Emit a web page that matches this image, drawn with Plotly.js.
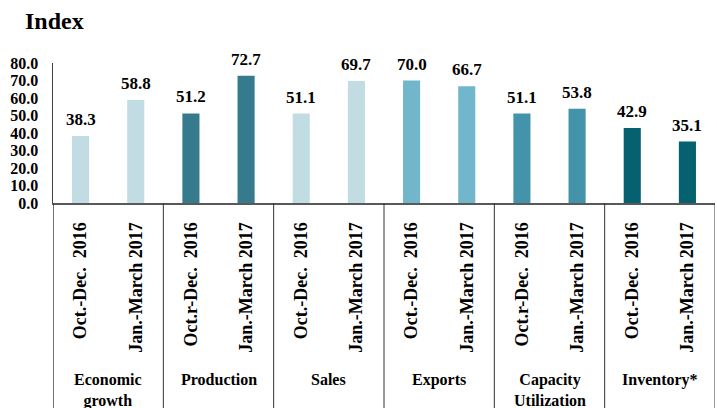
<!DOCTYPE html>
<html>
<head>
<meta charset="utf-8">
<script src="https://cdn.plot.ly/plotly-3.0.1.min.js"></script>
<style>html,body{margin:0;padding:0;background:#fff}#chart{width:717px;height:408px}</style>
</head>
<body>
<div id="chart"></div>
<script>
const groups = ['Economic<br>growth', 'Production', 'Sales', 'Exports', 'Capacity<br>Utilization', 'Inventory*'];
const periods = ['Oct.-Dec.\u00a0 2016', 'Jan.-March 2017', 'Oct.r-Dec.\u00a0 2016', 'Jan.-March 2017',
                 'Oct.-Dec.\u00a0 2016', 'Jan.-March 2017', 'Oct.-Dec.\u00a0 2016', 'Jan.-March 2017',
                 'Oct.r-Dec.\u00a0 2016', 'Jan.-March 2017', 'Oct.-Dec.\u00a0 2016', 'Jan.-March 2017'];
const values = [38.3, 58.8, 51.2, 72.7, 51.1, 69.7, 70.0, 66.7, 51.1, 53.8, 42.9, 35.1];
const groupColors = ['#c2dce4', '#357b8d', '#c2dce4', '#72b6cc', '#4393aa', '#05616f'];
const yTicks = [0, 10, 20, 30, 40, 50, 60, 70, 80];

const W = 717, H = 408;
const M = {l: 53, r: 2, t: 63, b: 205};
const plotH = H - M.t - M.b;
const pyToPaper = py => (H - M.b - py) / plotH;

const perGroup = periods.length / groups.length;
const xs = values.map((_, i) => i);
const colors = values.map((_, i) => groupColors[Math.floor(i / perGroup)]);
const font = 'Liberation Serif, Times New Roman, serif';

const trace = {
  type: 'bar', x: xs, y: values,
  marker: {color: colors, line: {width: 0}},
  width: 0.31, hoverinfo: 'none', cliponaxis: false
};

const annotations = values.map((v, i) => ({
  x: i, y: v, xref: 'x', yref: 'y', text: '<b>' + v.toFixed(1) + '</b>',
  showarrow: false, yanchor: 'bottom', yshift: 5,
  font: {family: font, size: 17, color: '#000'}
}));
groups.forEach((g, k) => {
  annotations.push({
    x: k * perGroup + (perGroup - 1) / 2, xref: 'x', y: pyToPaper(369), yref: 'paper',
    yanchor: 'top', xanchor: 'center', showarrow: false, text: '<b>' + g + '</b>',
    font: {family: font, size: 16, color: '#000'}
  });
});

const shapes = [];
for (let k = 0; k <= groups.length; k++) {
  shapes.push({
    type: 'line', xref: 'x', yref: 'paper',
    x0: k * perGroup - 0.5, x1: k * perGroup - 0.5,
    y0: 0, y1: pyToPaper(H),
    line: {color: k === 0 ? '#404040' : '#333', width: k === 0 ? 1.5 : 1}
  });
}

const layout = {
  width: W, height: H, margin: M,
  paper_bgcolor: '#fff', plot_bgcolor: '#fff',
  showlegend: false,
  title: {text: '<b>Index</b>', x: 25 / W, xanchor: 'left', xref: 'container',
          y: 1 - 21 / H, yanchor: 'middle', yref: 'container',
          font: {family: font, size: 24, color: '#000'}},
  xaxis: {
    range: [-0.5, values.length - 0.5], tickvals: xs, ticktext: periods.map(p => '<b>' + p + '</b>'),
    tickangle: -90, ticks: '', showgrid: false, zeroline: false,
    showline: true, linecolor: '#595959', linewidth: 2,
    ticklabelstandoff: 10,
    tickfont: {family: font, size: 18, color: '#000'}
  },
  yaxis: {
    range: [0, 80], tickvals: yTicks, ticktext: yTicks.map(t => '<b>' + t.toFixed(1) + '</b>'),
    ticks: '', showgrid: false, zeroline: false,
    showline: true, linecolor: '#404040', linewidth: 1.5,
    ticklabelstandoff: 10,
    tickfont: {family: font, size: 16, color: '#000'}
  },
  annotations: annotations,
  shapes: shapes
};

Plotly.newPlot('chart', [trace], layout, {displayModeBar: false, staticPlot: true});
</script>
</body>
</html>
